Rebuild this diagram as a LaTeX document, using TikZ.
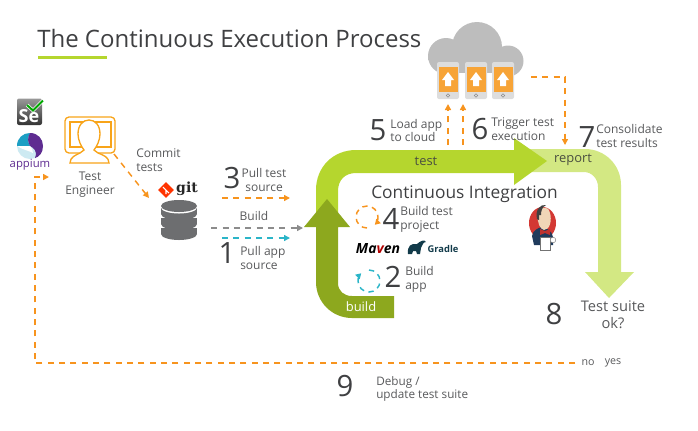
\documentclass[tikz,border=0pt]{standalone}
\usepackage{fontspec}
\setmainfont{Open Sans}
\newfontfamily\slabfont{DejaVu Serif}
\usetikzlibrary{arrows.meta,positioning}
\definecolor{buildgreen}{HTML}{8DA81E}
\definecolor{testgreen}{HTML}{B5D62E}
\definecolor{reportgreen}{HTML}{D3E883}
\definecolor{flowgray}{HTML}{58595B}
\definecolor{numgray}{HTML}{3F4042}
\definecolor{dashorange}{HTML}{F7941E}
\definecolor{dashcyan}{HTML}{2BB5C8}
\definecolor{dashgray}{HTML}{8C8C8C}
\definecolor{dbgray}{HTML}{6D6E70}
\definecolor{cloudgray}{HTML}{BDBDBD}
\definecolor{phonegray}{HTML}{DDDDDD}
\definecolor{phoneorange}{HTML}{F7A437}
\definecolor{appiumpurple}{HTML}{5F2C91}
\definecolor{appiumblue}{HTML}{1C9FC4}
\definecolor{gradleblue}{HTML}{123B4A}
\definecolor{jenkinsred}{HTML}{D33833}
\definecolor{jenkinsnavy}{HTML}{1F3B5C}
\definecolor{jenkinsskin}{HTML}{F0D6B7}
\tikzset{
    % numbered steps and their captions
    stepnum/.style={font=\fontsize{22}{24}\selectfont, text=numgray, inner sep=0pt},
    steptext/.style={font=\fontsize{9}{10.4}\selectfont, text=flowgray, align=left, anchor=west, inner sep=0pt},
    midtext/.style={steptext, align=center, anchor=center},
    looptext/.style={midtext, font=\fontsize{9.7}{11}\selectfont},
    % dashed connectors
    flowdash/.style={line width=1.1pt, dash pattern=on 4.5pt off 4pt, -{Triangle[length=4.5pt,width=4.5pt]}},
    orangedash/.style={flowdash, draw=dashorange},
    cyandash/.style={flowdash, draw=dashcyan},
    graydash/.style={flowdash, draw=dashgray},
    % invisible box round an icon
    iconbox/.style={inner sep=0pt, minimum width=#1},
    ringline/.style={line width=1.1pt, dash pattern=on 4pt off 3.4pt, -{Triangle[length=4pt,width=4.5pt]}},
}
\begin{document}
\begin{tikzpicture}[x=0.75pt,y=-0.75pt]
  \useasboundingbox (0,0) rectangle (698,430);

  % --- title ---
  \node[font=\fontsize{18}{20}\selectfont, text=numgray, anchor=west, inner sep=0pt] (title) at (37,38) {The Continuous Execution Process};
  \fill[testgreen] (38,55.5) rectangle (107,58.5);

  % --- the loop ---
  \fill[reportgreen] (520,149) -- (585,149) .. controls (605,149) and (621,165) .. (621,185)
        -- (621,272) -- (634,272) -- (609,298) -- (585,272) -- (598,272) -- (598,187)
        .. controls (598,179) and (592,172) .. (584,172) -- (520,172) -- cycle;
  \fill[testgreen] (316,227) -- (316,190) .. controls (316,167) and (333,150) .. (356,150)
        -- (514,150) -- (514,138) -- (547,161) -- (514,185) -- (514,173) -- (356,173)
        .. controls (345,173) and (338,180) .. (338,191) -- (338,227) -- cycle;
  \fill[buildgreen] (394,296) -- (352,296) .. controls (344,296) and (338,291) .. (338,283)
        -- (338,227) -- (350,227) -- (327,199) -- (304,227) -- (316,227) -- (316,282)
        .. controls (316,302) and (332,318) .. (352,318) -- (394,318) -- cycle;
  \node[looptext, text=numgray!90!testgreen] (testlabel) at (426,161.5) {test};
  \node[looptext, text=numgray!90!testgreen] (reportlabel) at (573,160) {report};
  \node[looptext, text=white] (buildlabel) at (361,307) {build};

  % --- left column ---
  \shade[top color=black!40, bottom color=black!80, rounded corners=1.5pt] (17,98.5) rectangle (42,125);
  \draw[white, line width=2.6pt] (27,105) -- (33,110.5) -- (43,100.5);
  \draw[green!65!black, line width=1.5pt] (27,105) -- (33,110.5) -- (43,100.5);
  \node[font=\bfseries\fontsize{13.5}{14}\selectfont, text=white, inner sep=0pt] (selenium) at (29,116) {Se};
  \fill[appiumblue!22] (30,146) circle (13);
  \fill[appiumblue] (17,146) .. controls (17,138) and (23,133) .. (30,133)
        .. controls (27,138) and (28,142) .. (30,146) .. controls (25,147) and (21,147) .. (17,146) -- cycle;
  \fill[appiumpurple] (30,133) .. controls (38,133) and (43,139) .. (43,146)
        .. controls (43,153) and (39,157) .. (35,158) .. controls (38,150) and (33,148) .. (30,146)
        .. controls (28,142) and (27,138) .. (30,133) -- cycle;
  \fill[white] (17,146) .. controls (22,146) and (27,146) .. (30,146)
        .. controls (32,148) and (33,151) .. (33,153) .. controls (30,151) and (23,150) .. (17,146) -- cycle;
  \node[font=\fontsize{8.5}{9}\selectfont, text=appiumpurple, inner sep=0pt] (appium) at (30,164.5) {appium};

  % --- test engineer ---
  \begin{scope}[draw=dashorange!85!yellow, line width=1pt]
    \draw[rounded corners=3pt] (65,117) rectangle (115,153);
    \draw (70,122) rectangle (111,147);
    \draw[fill=white] (70,163) .. controls (70,157) and (76,155) .. (80,153) -- (84,150)
        .. controls (81,146) and (78,140) .. (78,134) .. controls (78,125) and (83,120) .. (89,120)
        .. controls (95,120) and (100,125) .. (100,134) .. controls (100,140) and (97,146) .. (94,150)
        -- (98,153) .. controls (103,155) and (109,157) .. (109,163) -- cycle;
  \end{scope}
  \node[midtext] (engineer) at (90,185) {Test\\Engineer};
  \node[steptext] (commit) at (136,160) {Commit\\tests};

  % --- git and its database ---
  \fill[red!60!orange, rotate around={45:(166,190)}] (160.5,184.5) rectangle (171.5,195.5);
  \draw[white, line width=0.8pt] (163,187) -- (169,193) (166,190) -- (166,194);
  \node[font=\slabfont\bfseries\fontsize{10.5}{11}\selectfont, text=black!85, inner sep=0pt] (gitlabel) at (187,189) {git};
  \foreach \y in {228,218,208}{
    \fill[white] (179,\y+4.5) ellipse [x radius=18,y radius=6];
    \fill[dbgray] (161,\y) rectangle (197,\y+6);
    \fill[dbgray] (179,\y+6) ellipse [x radius=18,y radius=6];
  }
  \fill[white] (179,207.5) ellipse [x radius=18,y radius=6];
  \fill[dbgray] (179,206) ellipse [x radius=18,y radius=6];
  \node[iconbox=36, minimum height=40] (gitdb) at (179,220) {};

  % --- connector ends ---
  \coordinate (commitstart) at (114,154);
  \coordinate (commitend) at (149,198);
  \coordinate (pulltestend) at (290,198);
  \coordinate (pulltestfrom) at (222,198);
  \coordinate (pullappfrom) at (222,238);
  \coordinate (pullappend) at (290,238);
  \coordinate (buildend) at (303,228);
  \coordinate (loadfrom) at (448,145);
  \coordinate (loadend) at (448,104);
  \coordinate (triggerfrom) at (463,145);
  \coordinate (triggerend) at (463,104);
  \coordinate (reportfrom) at (531,77);
  \coordinate (reportturn) at (565,77);
  \coordinate (reportend) at (565,145);
  \coordinate (debugfrom) at (575,363);
  \coordinate (debugturn) at (35,363);
  \coordinate (debugup) at (35,177);
  \coordinate (debugend) at (49,177);

  \draw[orangedash] (commitstart) -- (commitend);
  \draw[orangedash] (pulltestfrom) -- (pulltestend);
  \draw[graydash] (gitdb.east |- buildend) ++(8,0) -- (buildend);
  \draw[cyandash] (pullappfrom) -- (pullappend);
  \draw[orangedash] (loadfrom) -- (loadend);
  \draw[orangedash] (triggerfrom) -- (triggerend);
  \draw[orangedash] (reportfrom) -- (reportturn) -- (reportend);
  \draw[orangedash] (debugfrom) -- (debugturn) -- (debugup) -- (debugend);

  % --- steps on the left ---
  \node[stepnum] (stepthree) at (232,178) {3};
  \node[midtext] (pulltest) at (264,180) {Pull test\\source};
  \node[midtext] (buildtext) at (254,216) {Build};
  \node[stepnum] (stepone) at (227,253) {1};
  \node[steptext] (pullapp) at (240,258) {Pull app\\source};

  % --- cloud and phones ---
  \fill[cloudgray] (446,56) circle (18);
  \fill[cloudgray] (477,47) circle (25);
  \fill[cloudgray] (508,61) circle (15.5);
  \fill[cloudgray] (440,60) rectangle (510,73);
  \fill[cloudgray] (428,56) rectangle (440,60);
  \foreach \x in {437,465,492}{
    \fill[phonegray, rounded corners=1.5pt] (\x,62) rectangle (\x+22,99);
    \fill[phoneorange] (\x+1.5,67) rectangle (\x+20.5,92);
    \fill[white] (\x+11,72) -- (\x+17,80) -- (\x+14,80) -- (\x+14,86) -- (\x+8,86) -- (\x+8,80) -- (\x+5,80) -- cycle;
    \draw[black!45, line width=0.4pt] (\x+11,95.5) circle (1.7);
  }

  % --- steps on top ---
  \node[stepnum] (stepfive) at (378,130) {5};
  \node[steptext] (loadapp) at (390,130.5) {Load app\\to cloud};
  \node[stepnum] (stepsix) at (480,129) {6};
  \node[steptext] (trigger) at (491,129) {Trigger test\\execution};
  \node[stepnum] (stepseven) at (587,137) {7};
  \node[steptext] (consolidate) at (596,136) {Consolidate\\test results};

  % --- continuous integration ---
  \node[font=\fontsize{13}{14}\selectfont, text=numgray, inner sep=0pt] (citext) at (464.5,194) {Continuous Integration};
  \draw[ringline, draw=dashorange] (367,228) arc[start angle=-270, end angle=45, radius=11];
  \node[stepnum] (stepfour) at (391,219) {4};
  \node[steptext] (buildtest) at (400,219) {Build test\\project};
  \node[font=\bfseries\itshape\fontsize{10.5}{11}\selectfont, inner sep=0pt] (maven) at (378,249) {Ma{\color{red!70!black}v}en};
  \fill[gradleblue] (408,254) .. controls (407,246) and (411,243) .. (417,244)
        .. controls (420,241) and (425,239) .. (426,242) .. controls (422,242) and (423,246) .. (421,248)
        -- (420,254) -- (417,254) -- (416,251) -- (413,251) -- (412,254) -- cycle;
  \node[font=\bfseries\fontsize{7}{8}\selectfont, text=gradleblue, inner sep=0pt] (gradle) at (443,248.5) {Gradle};
  \draw[ringline, draw=dashcyan] (369,270) arc[start angle=-90, end angle=225, radius=11];
  \node[stepnum] (steptwo) at (393,277) {2};
  \node[steptext] (buildapp) at (405,279) {Build\\app};

  % --- jenkins ---
  \fill[jenkinsred] (542.5,223) ellipse [x radius=13.5,y radius=16];
  \fill[jenkinsnavy] (532,236) .. controls (533,230) and (538,228) .. (542,227)
        .. controls (547,228) and (552,231) .. (553,237) -- (553,245) -- (534,245) -- cycle;
  \fill[jenkinsskin] (538,215) .. controls (538,207) and (548,204) .. (550,213)
        .. controls (552,220) and (550,230) .. (544,230) .. controls (540,229) and (537,223) .. (538,215) -- cycle;
  \fill[black!75] (537,219) .. controls (535,210) and (540,204) .. (546,205)
        .. controls (542,207) and (541,211) .. (541,215) -- (539,215) -- (539,220) -- cycle;
  \fill[jenkinsred!90!black] (545,231) -- (550,229) -- (550,235) -- (545,233) -- (540,235) -- (540,229) -- cycle;
  \fill[white, draw=black!55, line width=0.3pt] (540,237) rectangle (550,250);
  \fill[white, draw=black!55, line width=0.3pt] (553,240) circle (2.8);
  \node[iconbox=27, minimum height=45] (jenkins) at (542.5,227.5) {};

  % --- bottom ---
  \node[stepnum] (stepeight) at (554,314) {8};
  \node[midtext, font=\fontsize{11}{13}\selectfont] (suiteok) at (613,314.5) {Test suite\\ok?};
  \node[midtext, font=\fontsize{8}{9}\selectfont] (nolabel) at (588,363) {no};
  \node[midtext, font=\fontsize{8}{9}\selectfont] (yeslabel) at (613,363) {yes};
  \node[stepnum] (stepnine) at (345,386) {9};
  \node[steptext, font=\fontsize{8.8}{10.4}\selectfont] (debug) at (376,389) {Debug /\\update test suite};
\end{tikzpicture}
\end{document}
